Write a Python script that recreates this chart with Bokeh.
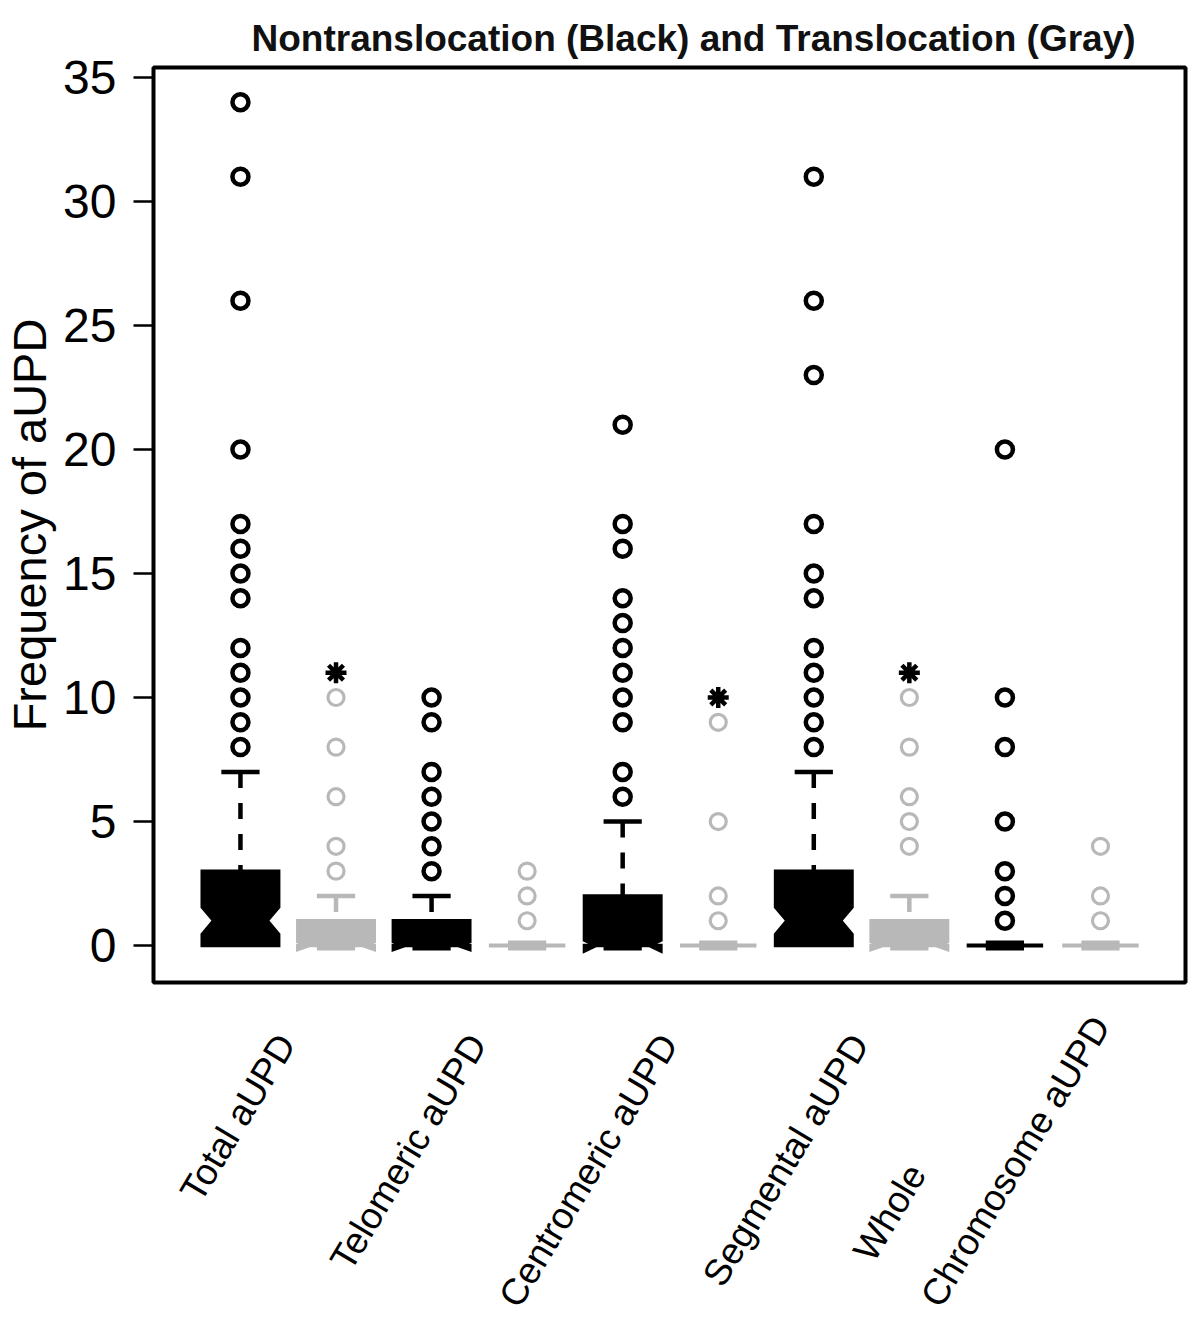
import math
from bokeh.plotting import figure
from bokeh.layouts import column
from bokeh.models import FixedTicker, Range1d
from bokeh.core.properties import value
from bokeh.embed import file_html
from bokeh.resources import INLINE

# ---------------- data ----------------
categories = ["Total aUPD", "Telomeric aUPD", "Centromeric aUPD", "Segmental aUPD", "Whole\nChromosome aUPD"]
group_colors = ["#000000", "#b8b8b8"]          # Nontranslocation (black), Translocation (gray)
box_pos = [1, 2, 3, 4, 5, 6, 7, 8, 9, 10]
q1 = [0, 0, 0, 0, 0, 0, 0, 0, 0, 0]
median = [1, 0, 0, 0, 0, 0, 1, 0, 0, 0]
q3 = [3, 1, 1, 0, 2, 0, 3, 1, 0, 0]
whisker_hi = [7, 2, 2, 0, 5, 0, 7, 2, 0, 0]
notch_lo = [0.45, -0.16, -0.16, 0, -0.22, 0, 0.45, -0.16, 0, 0]
notch_hi = [1.55, 0.16, 0.16, 0, 0.22, 0, 1.55, 0.16, 0, 0]

out_total_non = [8, 9, 10, 11, 12, 14, 15, 16, 17, 20, 26, 31, 34]
out_total_tr = [3, 4, 6, 8, 10]
out_telo_non = [3, 4, 5, 6, 7, 9, 10]
out_telo_tr = [1, 2, 3]
out_centro_non = [6, 7, 9, 10, 11, 12, 13, 14, 16, 17, 21]
out_centro_tr = [1, 2, 5, 9]
out_seg_non = [8, 9, 10, 11, 12, 14, 15, 17, 23, 26, 31]
out_seg_tr = [4, 5, 6, 8, 10]
out_whole_non = [1, 2, 3, 5, 8, 10, 20]
out_whole_tr = [1, 2, 4]
outliers = [out_total_non, out_total_tr, out_telo_non, out_telo_tr, out_centro_non,
            out_centro_tr, out_seg_non, out_seg_tr, out_whole_non, out_whole_tr]

star_pos = [2, 6, 8]
star_val = [11, 10, 11]
y_ticks = [0, 5, 10, 15, 20, 25, 30, 35]

title_text = "Nontranslocation (Black) and Translocation (Gray)"
y_title = "Frequency of aUPD"

# ---------------- layout ----------------
X0, X1 = 0.09, 10.89
Y0, Y1 = -1.49, 35.40
W = 1192
ML, MR, MT, MB = 153, 7, 67, 6
FH = 915
H1 = MT + FH + MB            # main figure height
H2 = 1316 - H1               # label strip height
FONT = "Liberation Sans"
pxx = (W - ML - MR) / (X1 - X0)

p = figure(width=W, height=H1, x_range=(X0, X1), y_range=(Y0, Y1),
           output_backend="svg", toolbar_location=None, x_axis_type=None,
           min_border_left=ML, min_border_right=MR, min_border_top=MT, min_border_bottom=MB)
p.xgrid.visible = False
p.ygrid.visible = False
p.outline_line_color = "black"
p.outline_line_width = 4
p.outline_line_alpha = 1

# title
p.title.text = title_text
p.title.align = "left"
p.title.offset = 98
p.title.text_font = FONT
p.title.text_font_style = "bold"
p.title.text_font_size = "37px"
p.title.text_color = "#111111"
p.title.standoff = 18

# y axis
ay = p.yaxis[0]
ay.ticker = FixedTicker(ticks=y_ticks)
ay.axis_line_color = None
ay.major_tick_out = 20
ay.major_tick_in = 0
ay.major_tick_line_width = 2.5
ay.minor_tick_line_color = None
ay.major_label_standoff = 17
ay.major_label_text_font = FONT
ay.major_label_text_font_size = "48px"
ay.major_label_text_color = "black"
ay.axis_label = y_title
ay.axis_label_text_font = FONT
ay.axis_label_text_font_size = "47px"
ay.axis_label_text_font_style = "normal"
ay.axis_label_text_color = "black"
ay.axis_label_standoff = 4

hw = 0.4      # half box width
nf = 0.7      # notch narrowing

for i, x in enumerate(box_pos):
    col = group_colors[i % 2]
    if q3[i] > q1[i]:
        xs = [x - hw, x - hw, x - nf * hw, x - hw, x - hw, x + hw, x + hw, x + nf * hw, x + hw, x + hw]
        ys = [q1[i], notch_lo[i], median[i], notch_hi[i], q3[i], q3[i], notch_hi[i], median[i], notch_lo[i], q1[i]]
        p.patch(xs, ys, fill_color=col, line_color=col, line_width=3.5, line_join="miter")
    else:
        p.segment(x0=[x - hw], y0=[q1[i]], x1=[x + hw], y1=[q3[i]], line_color=col, line_width=4)
    # median
    p.segment(x0=[x - hw / 2], y0=[median[i]], x1=[x + hw / 2], y1=[median[i]],
              line_color=col, line_width=10, line_cap="butt")
    # whisker
    if whisker_hi[i] > q3[i]:
        p.segment(x0=[x], y0=[whisker_hi[i]], x1=[x], y1=[q3[i]], line_color=col,
                  line_width=4.5, line_dash="16 15", line_cap="butt")
        p.segment(x0=[x - hw / 2], y0=[whisker_hi[i]], x1=[x + hw / 2], y1=[whisker_hi[i]],
                  line_color=col, line_width=4.5, line_cap="butt")
    # outliers
    p.scatter(x=[x] * len(outliers[i]), y=outliers[i], marker="circle", size=16,
              fill_color=None, line_color=col, line_width=4.5 if i % 2 == 0 else 3.2)

p.scatter(x=star_pos, y=star_val, marker="asterisk", size=21, line_color="black", line_width=4.5)

# ---------------- category label strip (shares the plot's x scale; frames align in the column) ----------------
p2 = figure(width=W, height=H2, output_backend="svg", toolbar_location=None,
            x_range=p.x_range, y_range=Range1d(0, H2),
            x_axis_type=None, y_axis_type=None,
            min_border_left=ML, min_border_right=MR, min_border_top=0, min_border_bottom=0)
p2.xgrid.visible = False
p2.ygrid.visible = False
p2.outline_line_color = None

TOP = 8 + H1                 # page y of strip top


def sy(page_y):
    return H2 - (page_y - TOP)


ANG = 59
LFS = "37px"
lab_x, lab_y, lab_t = [], [], []
for k, name in enumerate(categories):
    c = box_pos[2 * k] + 0.5
    if "\n" in name:
        first, second = name.split("\n")
        lab_x.append(c + 48 / pxx)
        lab_y.append(sy(1027))
        lab_t.append(second)
        p2.text(x=[c - 190 / pxx], y=[sy(1265)], text=[first], angle=ANG, angle_units="deg",
                text_font=value(FONT), text_font_size=value(LFS), text_color="black",
                text_align="left", text_baseline="middle")
    else:
        lab_x.append(c - 2 / pxx)
        lab_y.append(sy(1045))
        lab_t.append(name)
p2.text(x=lab_x, y=lab_y, text=lab_t, angle=ANG, angle_units="deg",
        text_font=value(FONT), text_font_size=value(LFS), text_color="black",
        text_align="right", text_baseline="middle")

layout = column(p, p2, spacing=0)
open("out.html", "w").write(file_html(layout, INLINE))
